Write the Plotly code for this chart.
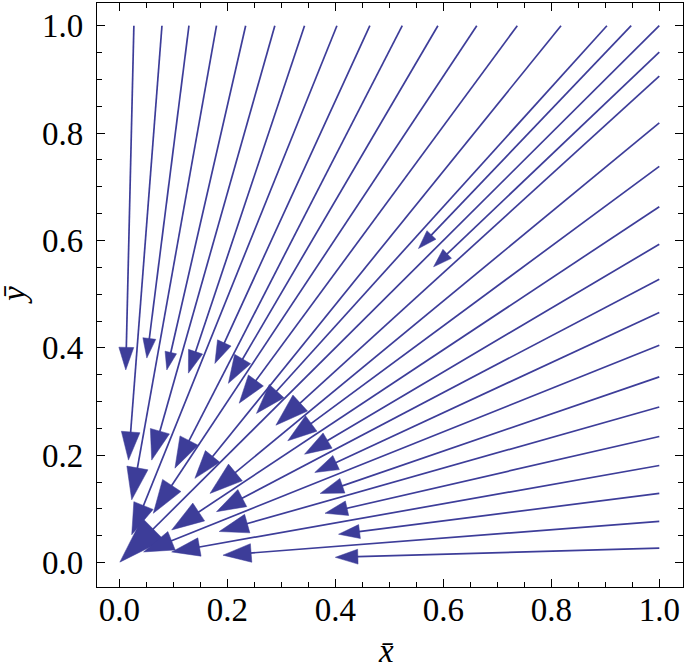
import numpy as np
import plotly.graph_objects as go

# ---- data ----
# streamlines entering through the top edge (y = 1): start x, end (arrow tip), relative magnitude
top_start_x = [0.027, 0.079, 0.129, 0.180, 0.234, 0.288, 0.343, 0.403, 0.464,
               0.524, 0.590, 0.662, 0.737, 0.818, 0.903, 0.948, 1.000]
top_end_x = [0.012, 0.017, 0.051, 0.023, 0.088, 0.060, 0.128, 0.023, 0.177,
             0.103, 0.202, 0.063, 0.222, 0.140, 0.254, 0.554, 0.001]
top_end_y = [0.359, 0.191, 0.381, 0.117, 0.359, 0.191, 0.353, 0.052, 0.371,
             0.176, 0.334, 0.092, 0.297, 0.157, 0.278, 0.585, 0.001]
top_mag = [0.48, 0.60, 0.42, 0.69, 0.38, 0.64, 0.48, 0.67, 0.48,
           0.66, 0.60, 0.71, 0.60, 0.60, 0.64, 0.40, 1.00]

# streamlines entering through the right edge (x = 1): start y, end (arrow tip), relative magnitude
right_start_y = [0.951, 0.906, 0.819, 0.738, 0.663, 0.593, 0.528, 0.466,
                 0.405, 0.346, 0.290, 0.235, 0.181, 0.129, 0.077, 0.027]
right_end_x = [0.582, 0.290, 0.168, 0.312, 0.097, 0.343, 0.180, 0.362,
               0.045, 0.372, 0.185, 0.381, 0.097, 0.406, 0.192, 0.400]
right_end_y = [0.551, 0.256, 0.129, 0.227, 0.061, 0.202, 0.095, 0.168,
               0.020, 0.129, 0.058, 0.092, 0.020, 0.053, 0.014, 0.010]
right_mag = [0.40, 0.70, 0.70, 0.62, 0.69, 0.57, 0.62, 0.50,
             0.64, 0.50, 0.62, 0.48, 0.60, 0.45, 0.60, 0.48]

tick_vals = [0.0, 0.2, 0.4, 0.6, 0.8, 1.0]
tick_text = ["0.0", "0.2", "0.4", "0.6", "0.8", "1.0"]

# ---- style ----
COLOR = "#3d3d99"
W, H = 685, 669
ML, MR, MT, MB = 97, 2, 3, 82
XR = [-0.0413, 1.0439]
YR = [-0.0453, 1.0423]
pw, ph = W - ML - MR, H - MT - MB
sx = pw / (XR[1] - XR[0])
sy = ph / (YR[1] - YR[0])
ARROW_LEN = 47.0   # px for magnitude 1
ARROW_W = 0.66

fig = go.Figure()

starts = [(x, 1.0) for x in top_start_x] + [(1.0, y) for y in right_start_y]
ends = list(zip(top_end_x, top_end_y)) + list(zip(right_end_x, right_end_y))
mags = top_mag + right_mag

for (x0, y0), (x1, y1), m in zip(starts, ends, mags):
    dx, dy = (x1 - x0) * sx, (y1 - y0) * sy
    n = np.hypot(dx, dy)
    ux, uy = dx / n, dy / n
    L = ARROW_LEN * m
    Wd = ARROW_W * L
    lx = x1 - 0.6 * L * ux / sx
    ly = y1 - 0.6 * L * uy / sy
    fig.add_trace(go.Scatter(x=[x0, lx], y=[y0, ly], mode="lines",
                             line=dict(color=COLOR, width=1.7),
                             hoverinfo="skip", showlegend=False))
    bx, by = -L * ux, -L * uy
    px_, py_ = -uy, ux
    xs = [x1, x1 + (bx + px_ * Wd / 2) / sx, x1 + (bx - px_ * Wd / 2) / sx, x1]
    ys = [y1, y1 + (by + py_ * Wd / 2) / sy, y1 + (by - py_ * Wd / 2) / sy, y1]
    fig.add_trace(go.Scatter(x=xs, y=ys, mode="lines", fill="toself",
                             fillcolor=COLOR, line=dict(color=COLOR, width=0.5),
                             hoverinfo="skip", showlegend=False))

axis_common = dict(
    showgrid=False, zeroline=False, automargin=False,
    showline=True, linecolor="black", linewidth=1.3, mirror="ticks",
    ticks="inside", ticklen=8, tickwidth=1.1, tickcolor="black",
    tickvals=tick_vals, ticktext=tick_text,
    tickfont=dict(family="Liberation Serif", size=33, color="black"),
    minor=dict(ticks="inside", ticklen=4.5, tickwidth=1, tickcolor="black",
               dtick=0.05, tick0=0, showgrid=False),
)

fig.update_layout(
    width=W, height=H,
    margin=dict(l=ML, r=MR, t=MT, b=MB),
    paper_bgcolor="white", plot_bgcolor="white",
    xaxis=dict(range=XR, ticklabelstandoff=-7, **axis_common),
    yaxis=dict(range=YR, ticklabelstandoff=6, **axis_common),
    annotations=[
        dict(text="<i>x\u0304</i>", xref="paper", yref="paper",
             x=(386 - ML) / pw, y=(H - MB - 671) / ph, xanchor="center", yanchor="bottom",
             showarrow=False, font=dict(family="Liberation Serif", size=33, color="black")),
        dict(text="<i>y\u0304</i>", xref="paper", yref="paper",
             x=(14 - ML) / pw, y=0.5, xanchor="center", yanchor="middle", textangle=-90,
             showarrow=False, font=dict(family="Liberation Serif", size=33, color="black")),
    ],
)

fig.write_html("out.html", config={"displayModeBar": False},
               post_script="document.body.style.margin='0';")
